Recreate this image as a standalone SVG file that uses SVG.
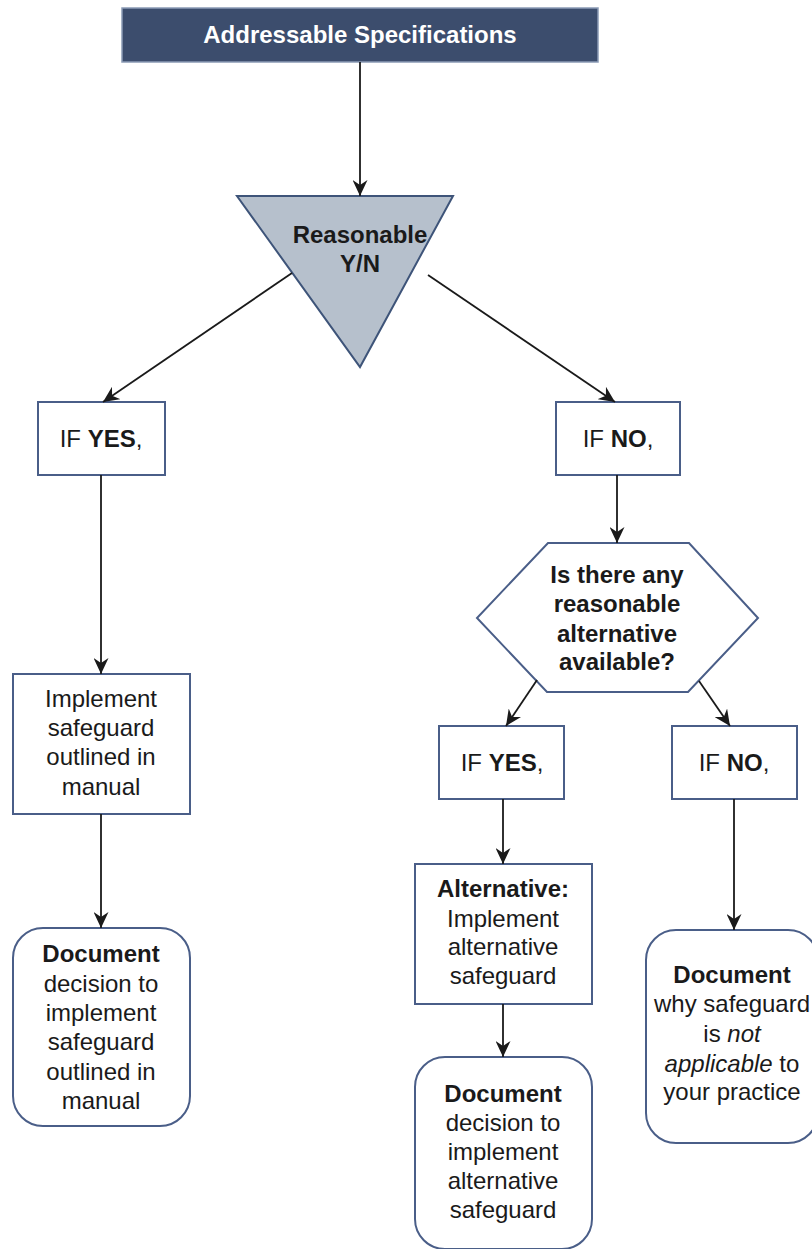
<svg xmlns="http://www.w3.org/2000/svg" width="812" height="1249" viewBox="0 0 812 1249">
<style>
.box{fill:#ffffff;stroke:#4a5e88;stroke-width:2}
.t{font-family:"Liberation Sans",Arial,sans-serif;font-size:24px;fill:#1a1a1a;text-anchor:middle}
.b{font-weight:bold}
.con line{stroke:#1a1a1a;stroke-width:1.8;marker-end:url(#arr)}
</style>
<defs>
<marker id="arr" viewBox="0 0 16 15" refX="16" refY="7.5" markerWidth="16" markerHeight="15" orient="auto" markerUnits="userSpaceOnUse">
<path d="M0,0 L16,7.5 L0,15 L5,7.5 z" fill="#1a1a1a"/>
</marker>
</defs>
<rect width="812" height="1249" fill="#ffffff"/>

<g id="title">
<rect x="122" y="8" width="476" height="54" fill="#3c4d6d" stroke="#8a9ab5" stroke-width="1.5"/>
<text x="360" y="43" class="t b" style="fill:#ffffff">Addressable Specifications</text>
</g>

<g id="reasonable">
<polygon points="237,196 453,196 360,367" fill="#b6c0cc" stroke="#3e5479" stroke-width="2"/>
<text x="360" y="243" class="t b">Reasonable</text>
<text x="360" y="272" class="t b">Y/N</text>
</g>

<g id="ifyes1">
<rect x="38" y="402" width="127" height="73" class="box"/>
<text x="101" y="447" class="t">IF <tspan class="b">YES</tspan>,</text>
</g>

<g id="ifno1">
<rect x="556" y="402" width="124" height="73" class="box"/>
<text x="618" y="447" class="t">IF <tspan class="b">NO</tspan>,</text>
</g>

<g id="implement">
<rect x="13" y="674" width="177" height="140" class="box"/>
<text x="101" y="707" class="t">Implement</text>
<text x="101" y="736" class="t">safeguard</text>
<text x="101" y="765" class="t">outlined in</text>
<text x="101" y="795" class="t">manual</text>
</g>

<g id="doc1">
<rect x="13" y="928" width="177" height="198" rx="30" ry="30" class="box"/>
<text x="101" y="962" class="t b">Document</text>
<text x="101" y="992" class="t">decision to</text>
<text x="101" y="1021" class="t">implement</text>
<text x="101" y="1050" class="t">safeguard</text>
<text x="101" y="1080" class="t">outlined in</text>
<text x="101" y="1109" class="t">manual</text>
</g>

<g id="alt-question">
<polygon points="548,543 689,543 758,618 688,692 547,692 477,618" class="box"/>
<text x="617" y="583" class="t b">Is there any</text>
<text x="617" y="612" class="t b">reasonable</text>
<text x="617" y="642" class="t b">alternative</text>
<text x="617" y="670" class="t b">available?</text>
</g>

<g id="ifyes2">
<rect x="439" y="726" width="125" height="73" class="box"/>
<text x="502" y="771" class="t">IF <tspan class="b">YES</tspan>,</text>
</g>

<g id="ifno2">
<rect x="672" y="726" width="125" height="73" class="box"/>
<text x="734" y="771" class="t">IF <tspan class="b">NO</tspan>,</text>
</g>

<g id="alternative">
<rect x="415" y="864" width="177" height="140" class="box"/>
<text x="503" y="897" class="t b">Alternative:</text>
<text x="503" y="927" class="t">Implement</text>
<text x="503" y="955" class="t">alternative</text>
<text x="503" y="984" class="t">safeguard</text>
</g>

<g id="doc2">
<rect x="415" y="1057" width="177" height="192" rx="30" ry="30" class="box"/>
<text x="503" y="1102" class="t b">Document</text>
<text x="503" y="1131" class="t">decision to</text>
<text x="503" y="1160" class="t">implement</text>
<text x="503" y="1189" class="t">alternative</text>
<text x="503" y="1218" class="t">safeguard</text>
</g>

<g id="doc3">
<rect x="646" y="930" width="172" height="213" rx="30" ry="30" class="box"/>
<text x="732" y="983" class="t b">Document</text>
<text x="732" y="1012" class="t">why safeguard</text>
<text x="732" y="1042" class="t">is <tspan font-style="italic">not</tspan></text>
<text x="732" y="1072" class="t"><tspan font-style="italic">applicable</tspan> to</text>
<text x="732" y="1100" class="t">your practice</text>
</g>

<g id="connectors" class="con">
<line x1="360" y1="62" x2="360" y2="196"/>
<line x1="292" y1="273" x2="103" y2="402"/>
<line x1="428" y1="275" x2="615" y2="402"/>
<line x1="101" y1="475" x2="101" y2="674"/>
<line x1="101" y1="814" x2="101" y2="928"/>
<line x1="617" y1="475" x2="617" y2="543"/>
<line x1="537" y1="680" x2="506" y2="726"/>
<line x1="699" y1="681" x2="730" y2="726"/>
<line x1="503" y1="799" x2="503" y2="864"/>
<line x1="734" y1="799" x2="734" y2="930"/>
<line x1="503" y1="1004" x2="503" y2="1057"/>
</g>
</svg>
